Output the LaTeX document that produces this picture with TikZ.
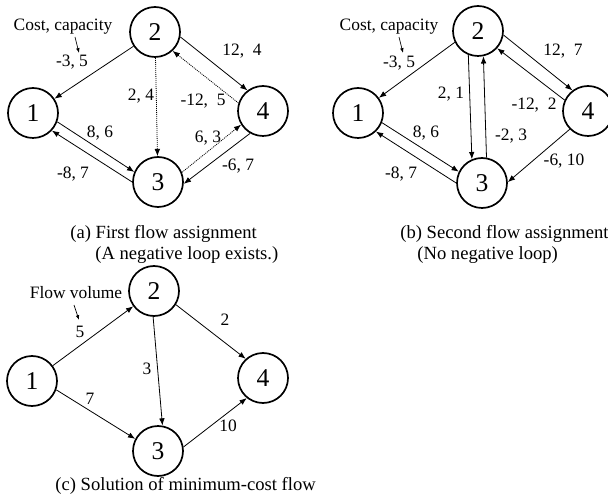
\documentclass[tikz,border=0pt]{standalone}
\usepackage{fontspec}
\setmainfont{Liberation Serif}
\usetikzlibrary{arrows.meta}

\tikzset{
  vtx/.style={circle,draw,line width=0.85pt,minimum size=25pt,inner sep=0pt,font=\fontsize{12.8}{14}\selectfont},
  lbl/.style={inner sep=0pt,font=\fontsize{8.7}{10}\selectfont},
  captxt/.style={inner sep=0pt,anchor=west,font=\fontsize{9.3}{11}\selectfont},
  arc/.style={line width=0.4pt,-{Latex[length=3.6pt,width=2.8pt]}},
  dotarc/.style={arc,dash pattern=on 0.5pt off 0.5pt},
  note/.style={line width=0.35pt,-{Latex[length=2.4pt,width=1.8pt]}}
}

\begin{document}
\begin{tikzpicture}[x=0.5pt,y=-0.5pt]
      \useasboundingbox (0,0) rectangle (608,501);

      % (a)
      \node[vtx] (a1) at (33,113) {1};
      \node[vtx] (a2) at (155,32) {2};
      \node[vtx] (a3) at (158,182) {3};
      \node[vtx] (a4) at (263,111) {4};
      \draw[arc] (a2) -- (a1);
      \draw[dotarc] (a2) -- (a3);
      \draw[arc] (a2.-11) -- (a4.127);
      \draw[dotarc] (a4.162) -- (a2.-47);
      \draw[arc] (a1.-20) -- (a3.157);
      \draw[arc] (a3.180) -- (a1.-43);
      \draw[dotarc] (a3.22) -- (a4.212);
      \draw[arc] (a4.240) -- (a3.-4);
      \node[lbl] (a-note) at (63,27) {Cost, capacity};
      \coordinate (a-tip) at (79,53);
      \draw[note] (75,37) -- (a-tip);
      \node[lbl] (a-12) at (72,62) {-3, 5};
      \node[lbl] (a-23) at (141,96) {2, 4};
      \node[lbl] (a-24) at (242,51) {12,\ \ 4};
      \node[lbl] (a-42) at (203,101) {-12,\ \ 5};
      \node[lbl] (a-13) at (100,133) {8, 6};
      \node[lbl] (a-34) at (208,138) {6, 3};
      \node[lbl] (a-31) at (73,174) {-8, 7};
      \node[lbl] (a-43) at (238,166) {-6, 7};
      \node[captxt] (a-cap) at (70,234) {(a) First flow assignment};
      \node[captxt] (a-sub) at (95,255) {(A negative loop exists.)};

      % (b)
      \node[vtx] (b1) at (358,113) {1};
      \node[vtx] (b2) at (478,31) {2};
      \node[vtx] (b3) at (482,183) {3};
      \node[vtx] (b4) at (588,111) {4};
      \draw[arc] (b2.206) -- (b1.36);
      \draw[arc] (b2.248) -- (b3.113);
      \draw[arc] (b3.80) -- (b2.-78);
      \draw[arc] (b2.-9) -- (b4.127);
      \draw[arc] (b4.155) -- (b2.-42);
      \draw[arc] (b1.-22) -- (b3.154);
      \draw[arc] (b3.180) -- (b1.-46);
      \draw[arc] (b4.225) -- (b3.2);
      \node[lbl] (b-note) at (389,27) {Cost, capacity};
      \coordinate (b-tip) at (403,53);
      \draw[note] (399,37) -- (b-tip);
      \node[lbl] (b-12) at (399,63) {-3, 5};
      \node[lbl] (b-23) at (451,94) {2, 1};
      \node[lbl] (b-24) at (563,51) {12,\ \ 7};
      \node[lbl] (b-42) at (534,105) {-12,\ \ 2};
      \node[lbl] (b-13) at (426,133) {8, 6};
      \node[lbl] (b-32) at (511,136) {-2, 3};
      \node[lbl] (b-31) at (401,174) {-8, 7};
      \node[lbl] (b-43) at (564,161) {-6, 10};
      \node[captxt] (b-cap) at (400,234) {(b) Second flow assignment};
      \node[captxt] (b-sub) at (417,255) {(No negative loop)};

      % (c)
      \node[vtx] (c1) at (32,381) {1};
      \node[vtx] (c2) at (154,291) {2};
      \node[vtx] (c3) at (158,451) {3};
      \node[vtx] (c4) at (263,378) {4};
      \draw[arc] (c1) -- (c2);
      \draw[arc] (c1.-20) -- (c3.152);
      \draw[arc] (c2.-92) -- (c3.80);
      \draw[arc] (c2.-32) -- (c4.132);
      \draw[arc] (c3.9) -- (c4.231);
      \node[lbl] (c-note) at (76,293) {Flow volume};
      \coordinate (c-tip) at (79,320);
      \draw[note] (74,305) -- (c-tip);
      \node[lbl] (c-12) at (80,332) {5};
      \node[lbl] (c-24) at (225,320) {2};
      \node[lbl] (c-23) at (147,369) {3};
      \node[lbl] (c-13) at (90,399) {7};
      \node[lbl] (c-34) at (228,426) {10};
      \node[captxt] (c-cap) at (55,486) {(c) Solution of minimum-cost flow};
    \end{tikzpicture}
\end{document}
